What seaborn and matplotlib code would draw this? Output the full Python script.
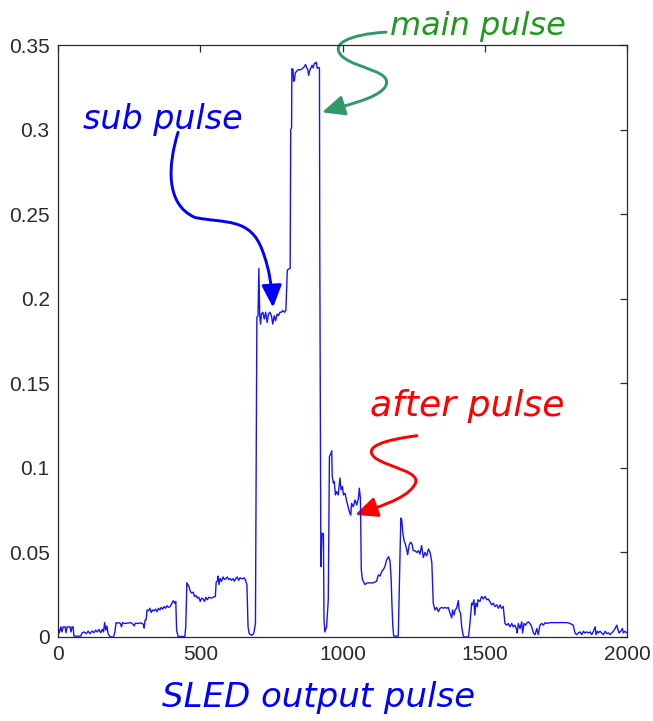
import numpy as np
import pandas as pd
import matplotlib
matplotlib.use("Agg")
import matplotlib.pyplot as plt
from matplotlib.path import Path
from matplotlib.patches import FancyArrowPatch
import seaborn as sns

# ---- SLED output, sampled detector trace --------------------------------
pre_idx = [0, 5, 10, 14, 18, 25, 28, 32, 42, 46,
           49, 53, 56, 80, 85, 92, 100, 106, 112, 120,
           126, 132, 138, 144, 150, 156, 160, 164, 168, 172,
           176, 180, 184, 195, 200, 204, 208, 215, 220, 223,
           227, 235, 245, 255, 262, 268, 272, 282, 290, 296,
           300, 303, 306, 310, 313, 318, 323, 328, 333, 338,
           343, 348, 353, 358, 363, 368, 373, 378, 383, 388,
           394, 399, 405, 410, 414, 417, 422, 446, 449]
pre_amp = [0.006, 0.0025, 0.006, 0.003, 0.006, 0.006, 0.0025, 0.006, 0.006, 0.003,
           0.006, 0.006, 0.0005, 0.0005, 0.0025, 0.003, 0.002, 0.0035, 0.002, 0.0035,
           0.0025, 0.004, 0.003, 0.0045, 0.0025, 0.0045, 0.003, 0.0085, 0.004, 0.0065,
           0.002, 0.001, 0.0, 0.0, 0.003, 0.0085, 0.0082, 0.0085, 0.0078, 0.006,
           0.0085, 0.008, 0.0082, 0.0085, 0.0078, 0.0065, 0.0082, 0.008, 0.0083, 0.008,
           0.0075, 0.0053, 0.0100, 0.0102, 0.016, 0.0155, 0.017, 0.0145, 0.016, 0.0155,
           0.0165, 0.015, 0.017, 0.016, 0.0175, 0.0165, 0.018, 0.017, 0.0185, 0.0175,
           0.018, 0.0195, 0.0215, 0.020, 0.021, 0.004, 0.0003, 0.0003, 0.006]

shelf_idx = [453, 456, 460, 465, 470, 475, 480, 485, 490, 495,
             500, 505, 510, 515, 520, 525, 530, 540, 545, 553,
             556, 560, 563, 566, 570, 575, 580, 585, 590, 595,
             600, 605, 610, 615, 620, 625, 630, 635, 640, 645,
             650, 655, 660, 664, 668, 672, 680, 688, 694]
shelf_amp = [0.032, 0.031, 0.030, 0.027, 0.026, 0.0265, 0.024, 0.0245, 0.023, 0.0235,
             0.021, 0.023, 0.0225, 0.021, 0.0235, 0.022, 0.0235, 0.023, 0.0235, 0.024,
             0.0325, 0.033, 0.036, 0.031, 0.0345, 0.033, 0.0355, 0.034, 0.0345, 0.0355,
             0.034, 0.0345, 0.0335, 0.0345, 0.033, 0.0345, 0.0355, 0.0335, 0.035, 0.0345,
             0.0345, 0.035, 0.033, 0.031, 0.006, 0.002, 0.001, 0.002, 0.008]

sub_idx = [699, 703, 706, 709, 712, 715, 720, 725, 730, 735,
           740, 745, 750, 755, 760, 765, 770, 775, 780, 785,
           790, 796, 801]
sub_amp = [0.189, 0.190, 0.218, 0.190, 0.185, 0.191, 0.192, 0.188, 0.192, 0.186,
           0.191, 0.192, 0.190, 0.185, 0.190, 0.187, 0.191, 0.190, 0.192, 0.192,
           0.193, 0.192, 0.193]

main_idx = [806, 816, 818, 821, 822, 826, 828, 831, 834, 839,
            845, 851, 857, 862, 866, 870, 874, 878, 881, 884,
            888, 893, 897, 901, 905, 908, 911, 915, 919, 920,
            924]
main_amp = [0.217, 0.218, 0.300, 0.301, 0.336, 0.3355, 0.3285, 0.329, 0.3335, 0.3345,
            0.3355, 0.3352, 0.3358, 0.3365, 0.3372, 0.3385, 0.3366, 0.3355, 0.332, 0.3345,
            0.336, 0.338, 0.3365, 0.3392, 0.339, 0.3398, 0.3362, 0.3366, 0.3366, 0.236,
            0.0416]

echo1_idx = [928, 933, 935, 938, 944, 950, 954, 958, 962, 964,
             968, 971, 975, 979, 985, 991, 995, 1000, 1003, 1009,
             1015, 1020, 1024, 1029, 1032, 1038, 1044, 1050, 1056, 1059,
             1063, 1066, 1070, 1079, 1087, 1096, 1108, 1120, 1126, 1132,
             1138, 1144, 1149, 1155, 1162, 1167, 1171, 1174, 1177, 1180,
             1196]
echo1_amp = [0.0614, 0.061, 0.010, 0.003, 0.006, 0.022, 0.1067, 0.108, 0.110, 0.095,
             0.091, 0.092, 0.084, 0.086, 0.084, 0.094, 0.087, 0.089, 0.084, 0.085,
             0.080, 0.077, 0.074, 0.072, 0.079, 0.077, 0.081, 0.078, 0.082, 0.088,
             0.082, 0.040, 0.034, 0.031, 0.032, 0.032, 0.032, 0.033, 0.0367, 0.036,
             0.0387, 0.040, 0.0416, 0.0456, 0.0475, 0.045, 0.034, 0.018, 0.006, 0.0005,
             0.0005]

echo2_idx = [1201, 1205, 1208, 1212, 1217, 1220, 1226, 1229, 1234, 1237,
             1241, 1245, 1249, 1255, 1261, 1267, 1272, 1278, 1284, 1290,
             1296, 1302, 1308, 1314, 1319, 1325, 1331, 1337, 1343, 1349,
             1355, 1360, 1366, 1372, 1378, 1384, 1387, 1392, 1396, 1401,
             1407, 1410, 1415, 1419, 1424, 1427, 1431, 1443]
echo2_amp = [0.040, 0.0703, 0.0697, 0.0615, 0.0564, 0.0555, 0.0515, 0.0486, 0.054, 0.0555,
             0.056, 0.0545, 0.051, 0.051, 0.050, 0.051, 0.049, 0.054, 0.047, 0.050,
             0.048, 0.052, 0.050, 0.044, 0.020, 0.016, 0.0175, 0.015, 0.017, 0.0175,
             0.017, 0.0175, 0.017, 0.0175, 0.014, 0.0113, 0.016, 0.013, 0.016, 0.017,
             0.0215, 0.016, 0.014, 0.006, 0.001, 0.0, 0.0, 0.0]

tail_idx = [1448, 1454, 1457, 1462, 1465, 1469, 1474, 1476, 1483, 1489,
            1495, 1501, 1507, 1512, 1518, 1524, 1530, 1536, 1542, 1548,
            1554, 1559, 1565, 1571, 1577, 1583, 1589, 1595, 1600, 1606,
            1612, 1614, 1618, 1624, 1630, 1633, 1638, 1644, 1647, 1653,
            1659, 1665, 1671, 1677, 1683, 1688, 1694, 1700, 1706, 1712,
            1718, 1729, 1741, 1765, 1788, 1800, 1811, 1817, 1823, 1829,
            1835, 1841, 1847, 1852, 1858, 1864, 1870, 1876, 1882, 1888,
            1891, 1896, 1899, 1905, 1911, 1917, 1923, 1929, 1935, 1940,
            1946, 1952, 1958, 1964, 1968, 1972, 1978, 1984, 1987, 1993,
            1999]
tail_amp = [0.008, 0.020, 0.019, 0.022, 0.013, 0.020, 0.018, 0.022, 0.021, 0.024,
            0.0225, 0.024, 0.022, 0.0225, 0.021, 0.019, 0.020, 0.018, 0.019, 0.017,
            0.019, 0.017, 0.018, 0.008, 0.007, 0.008, 0.006, 0.008, 0.006, 0.007,
            0.0045, 0.0024, 0.008, 0.005, 0.009, 0.0024, 0.008, 0.007, 0.008, 0.009,
            0.008, 0.006, 0.0024, 0.0014, 0.005, 0.0014, 0.007, 0.008, 0.007, 0.0085,
            0.008, 0.0085, 0.0085, 0.0085, 0.0085, 0.008, 0.007, 0.0024, 0.0014, 0.0024,
            0.003, 0.0014, 0.0034, 0.0024, 0.003, 0.0024, 0.003, 0.0014, 0.0034, 0.006,
            0.0014, 0.0034, 0.0024, 0.0034, 0.0024, 0.0014, 0.0034, 0.002, 0.0024, 0.0014,
            0.0024, 0.0034, 0.005, 0.007, 0.0045, 0.0024, 0.0034, 0.005, 0.0024, 0.0034,
            0.0024]

x_ticks = [0, 500, 1000, 1500, 2000]
x_tick_labels = ["0", "500", "1000", "1500", "2000"]
y_ticks = [0, 0.05, 0.1, 0.15, 0.2, 0.25, 0.3, 0.35]
y_tick_labels = ["0", "0.05", "0.1", "0.15", "0.2", "0.25", "0.3", "0.35"]

segments = [(pre_idx, pre_amp), (shelf_idx, shelf_amp), (sub_idx, sub_amp),
            (main_idx, main_amp), (echo1_idx, echo1_amp), (echo2_idx, echo2_amp),
            (tail_idx, tail_amp)]
trace = pd.concat([pd.DataFrame({"sample": s, "amplitude": a}) for s, a in segments],
                  ignore_index=True)

# ---- figure ---------------------------------------------------------------
sns.set_style("white")
plt.rcParams["font.family"] = ["Liberation Sans", "DejaVu Sans"]

W, H = 653, 721
fig = plt.figure(figsize=(W / 100, H / 100), dpi=100)
ax = fig.add_axes([58 / W, 1 - 637 / H, (627 - 58) / W, (637 - 45) / H])

sns.lineplot(data=trace, x="sample", y="amplitude", estimator=None, sort=False,
             color="#1414ff", linewidth=1.0, ax=ax)

ax.set_xlim(0, 2000)
ax.set_ylim(0, 0.35)
ax.set_xticks(x_ticks)
ax.set_xticklabels(x_tick_labels)
ax.set_yticks(y_ticks)
ax.set_yticklabels(y_tick_labels)
ax.set_xlabel("")
ax.set_ylabel("")
ax.tick_params(direction="in", top=True, right=True, length=5, width=0.9,
               colors="#2a2a2a", labelsize=15, pad=6)
for sp in ax.spines.values():
    sp.set_visible(True)
    sp.set_color("#2a2a2a")
    sp.set_linewidth(0.9)


def curved_arrow(points, color):
    codes = [Path.MOVETO] + [Path.CURVE4] * (len(points) - 1)
    patch = FancyArrowPatch(path=Path(points, codes), transform=ax.transData,
                            arrowstyle="-|>,head_length=0.8,head_width=0.36",
                            mutation_scale=17, color=color, linewidth=2.1,
                            clip_on=False, joinstyle="round", capstyle="round")
    ax.add_patch(patch)


# main pulse pointer
curved_arrow([(1153, 0.3576), (1026, 0.3564), (949, 0.3505), (1002, 0.3428),
              (1054, 0.3357), (1185, 0.3345), (1149, 0.3250),
              (1118, 0.3179), (1009, 0.3144), (928, 0.3102)], "#2f9a66")
# sub pulse pointer
curved_arrow([(422, 0.2984), (387, 0.2794), (376, 0.2557), (482, 0.2480),
              (587, 0.2445), (675, 0.2480), (717, 0.2291),
              (745, 0.2173), (752, 0.2054), (756, 0.1948)], "#0000ff")
# after pulse pointer
curved_arrow([(1262, 0.1190), (1149, 0.1166), (1069, 0.1125), (1114, 0.1060),
              (1160, 0.1000), (1290, 0.0977), (1251, 0.0894),
              (1220, 0.0811), (1114, 0.0764), (1044, 0.0722)], "#ff0000")

note_font = dict(family="DejaVu Sans", style="oblique")
fig.text(390 / W, 1 - 27 / H, "main pulse", color="#1f9a1f", ha="left", va="center",
         fontsize=23, **note_font)
fig.text(83 / W, 1 - 120 / H, "sub pulse", color="#0000ff", ha="left", va="center",
         fontsize=24, **note_font)
fig.text(370 / W, 1 - 406 / H, "after pulse", color="#ff0000", ha="left", va="center",
         fontsize=26, **note_font)
fig.text(319 / W, 1 - 698 / H, "SLED output pulse", color="#0000ff", ha="center", va="center",
         fontsize=24.5, **note_font)

fig.savefig("out.png", dpi=100, facecolor="white")
